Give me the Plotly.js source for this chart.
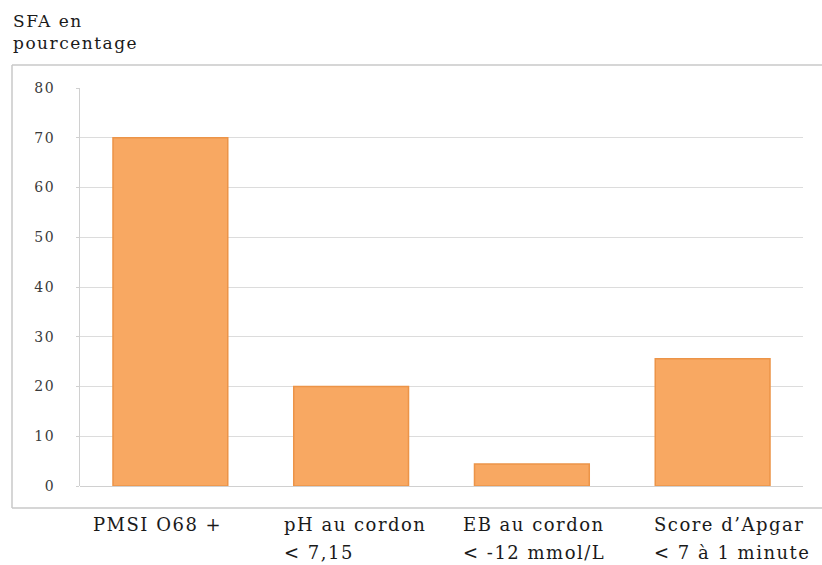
<!DOCTYPE html>
<html><head><meta charset="utf-8">
<script src="https://cdn.plot.ly/plotly-3.0.1.min.js"></script>
<style>
html,body{margin:0;padding:0;background:#fff}
text.annotation-text{letter-spacing:1.5px}
.ytick text{letter-spacing:1.5px}
</style>
</head><body>
<div id="chart" style="width:822px;height:565px"></div>
<script>
const categories = ["PMSI O68 +", "pH au cordon < 7,15", "EB au cordon < -12 mmol/L", "Score d\u2019Apgar < 7 à 1 minute"];
const labelLine1 = ["PMSI O68 +", "pH au cordon", "EB au cordon", "Score d\u2019Apgar"];
const labelLine2 = ["", "< 7,15", "< -12 mmol/L", "< 7 à 1 minute"];
const values = [70, 20, 4.4, 25.6];
const tickVals = [0, 10, 20, 30, 40, 50, 60, 70, 80];
const yTitle = "SFA en<br>pourcentage";

const W = 822, H = 565;
const mL = 80, mR = 19, mT = 88, mB = 79;
const pw = W - mL - mR, ph = H - mT - mB;
const px = x => (x - mL) / pw;
const py = y => (H - mB - y) / ph;

const serif = "DejaVu Serif, serif";
const labelShift = [-79, -69, -71, -61];

const annotations = [];
categories.forEach((c, i) => {
  [labelLine1[i], labelLine2[i]].forEach((t, k) => {
    if (!t) return;
    annotations.push({
      text: t, x: i, xref: "x", y: py(k === 0 ? 524 : 552), yref: "paper",
      xanchor: "left", yanchor: "middle", xshift: labelShift[i], showarrow: false,
      font: {family: serif, size: 18, color: "#1a1a1a"}
    });
  });
});
annotations.push({
  text: yTitle, x: px(11), xref: "paper", y: py(9), yref: "paper",
  xanchor: "left", yanchor: "top", align: "left", showarrow: false,
  font: {family: serif, size: 17, color: "#1a1a1a"}
});

const boxColor = "#c8c8c8";
const shapes = [
  {type: "line", xref: "paper", yref: "paper", x0: px(12), x1: px(822), y0: py(65), y1: py(65), line: {color: boxColor, width: 1.5}},
  {type: "line", xref: "paper", yref: "paper", x0: px(12), x1: px(12), y0: py(65), y1: py(508), line: {color: boxColor, width: 1.5}},
  {type: "line", xref: "paper", yref: "paper", x0: px(12), x1: px(822), y0: py(508), y1: py(508), line: {color: boxColor, width: 1.5}}
];

Plotly.newPlot("chart", [{
  type: "bar",
  x: categories.map((c, i) => i),
  y: values,
  width: 0.635,
  marker: {color: "#F8A862", line: {color: "#EC9448", width: 1.5}},
  hoverinfo: "none"
}], {
  width: W, height: H,
  margin: {l: mL, r: mR, t: mT, b: mB, pad: 0},
  paper_bgcolor: "#fff", plot_bgcolor: "#fff",
  showlegend: false,
  xaxis: {range: [-0.5, 3.5], showticklabels: false, ticks: "", showgrid: false,
          zeroline: false, showline: false, fixedrange: true},
  yaxis: {range: [0, 80], tickvals: tickVals, ticktext: tickVals.map(String),
          showgrid: true, gridcolor: "#dcdcdc", gridwidth: 1,
          zeroline: true, zerolinecolor: "#d0d0d0", zerolinewidth: 1,
          showline: true, linecolor: "#d0d0d0", linewidth: 1,
          ticks: "outside", ticklen: 3, tickcolor: "#d0d0d0",
          ticklabelstandoff: 18,
          tickfont: {family: serif, size: 14, color: "#3a3a3a"}, fixedrange: true},
  annotations: annotations,
  shapes: shapes
}, {displayModeBar: false, staticPlot: true});
</script>
</body></html>
